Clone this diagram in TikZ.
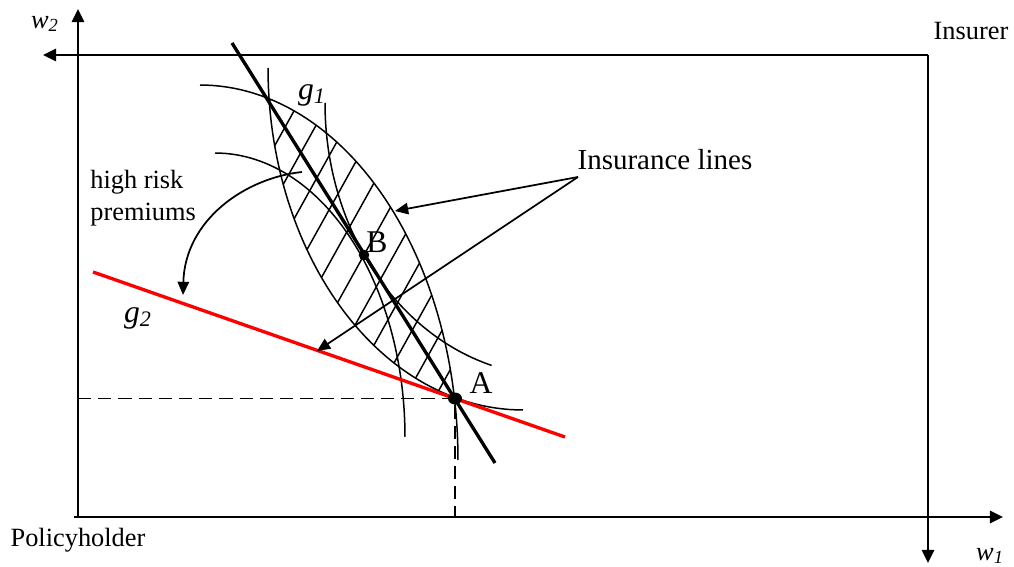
\documentclass[tikz,border=0pt]{standalone}
\usepackage{fontspec}
\setmainfont{Liberation Serif}
\usetikzlibrary{arrows.meta}
\begin{document}
\begin{tikzpicture}[x=0.02cm,y=-0.02cm,
  axis/.style={line width=1.25pt,-{Triangle[length=7.5pt,width=7pt]}},
  curve/.style={line width=0.85pt},
  hatch/.style={line width=0.85pt},
  thickline/.style={line width=1.9pt},
  redline/.style={line width=1.9pt,draw=red},
  dashline/.style={line width=0.8pt,dash pattern=on 7.5pt off 4pt},
  arr/.style={line width=1pt,-{Triangle[length=7.5pt,width=6.5pt]}},
  lbl/.style={font=\fontsize{15}{18}\selectfont,inner sep=0pt},
  pt/.style={font=\fontsize{18}{20}\selectfont,inner sep=0pt}]
\useasboundingbox (0,0) rectangle (1014,567);
% coordinates
\coordinate (O) at (78,517);
\coordinate (Ytop) at (78,9);
\coordinate (Ostart) at (74,517);
\coordinate (Xend) at (1003,517);
\coordinate (P) at (928,55);
\coordinate (Pleft) at (43,55);
\coordinate (Pdown) at (928,563);
\coordinate (A) at (455,398.5);
\coordinate (B) at (364,255);
\coordinate (Ay) at (78,398.5);
\coordinate (Ax) at (455,517);
\coordinate (T1) at (232,43);
\coordinate (T2) at (495,463);
\coordinate (R1) at (93,272);
\coordinate (R2) at (565,437);
\coordinate (ILs) at (578,177);
\coordinate (IL1) at (395,211);
\coordinate (IL2) at (317,351);
\coordinate (HRs) at (302,172);
\coordinate (HRe) at (183,295);
% axes
\draw[axis] (O) -- (Ytop);
\draw[axis] (Ostart) -- (Xend);
\draw[axis] (P) -- (Pleft);
\draw[axis] (P) -- (Pdown);
% hatching of the lens
\begin{scope}
\clip plot[domain=0:360,samples=90] ({523+255*cos(\x)},{68+342*sin(\x)}) -- cycle;
\clip plot[domain=0:360,samples=90] ({200+258*cos(\x)},{460+375*sin(\x)}) -- cycle;
\foreach \i in {-10,...,10}
  \draw[hatch] ({364+\i*30-150},525) -- ({364+\i*30+150},-15);
\end{scope}
% indifference curves
\draw[curve] plot[domain=90:180,samples=60] ({523+255*cos(\x)},{68+342*sin(\x)});
\draw[curve] plot[domain=270:360,samples=60] ({200+258*cos(\x)},{460+375*sin(\x)});
\draw[curve] plot[domain=106:180,samples=60] ({555+230*cos(\x)},{103+273*sin(\x)});
\draw[curve] plot[domain=270:360,samples=60] ({215+190*cos(\x)},{437+284*sin(\x)});
% dashed projections
\draw[dashline] (Ay) -- (A) -- (Ax);
% lines
\draw[redline] (R1) -- (R2);
\draw[thickline] (T1) -- (T2);
% points
\fill (A) ellipse [x radius=4pt, y radius=3.4pt];
\fill (B) circle [radius=3pt];
% arrows
\draw[arr] (ILs) -- (IL1);
\draw[arr] (ILs) -- (IL2);
\draw[arr] (HRs) .. controls (245,178) and (185,220) .. (HRe);
% labels
\node[lbl] (w2) at (45,24) {\textit{w}\textsubscript{\textit{2}}};
\node[lbl] (ins) at (971,31) {Insurer};
\node[lbl] (pol) at (78,540) {Policyholder};
\node[lbl] (w1) at (990,556) {\textit{w}\textsubscript{\textit{1}}};
\node[pt] (g1) at (312,95) {\textit{g}\textsubscript{\textit{1}}};
\node[pt] (g2) at (138,318) {\textit{g}\textsubscript{\textit{2}}};
\node[lbl,anchor=west,align=left] (hr) at (90,198) {high risk\\premiums};
\node[lbl,font=\fontsize{16.5}{19}\selectfont] (il) at (665,160) {Insurance lines};
\node[pt] (la) at (481,383) {A};
\node[pt] (lb) at (377,242) {B};
\end{tikzpicture}
\end{document}
